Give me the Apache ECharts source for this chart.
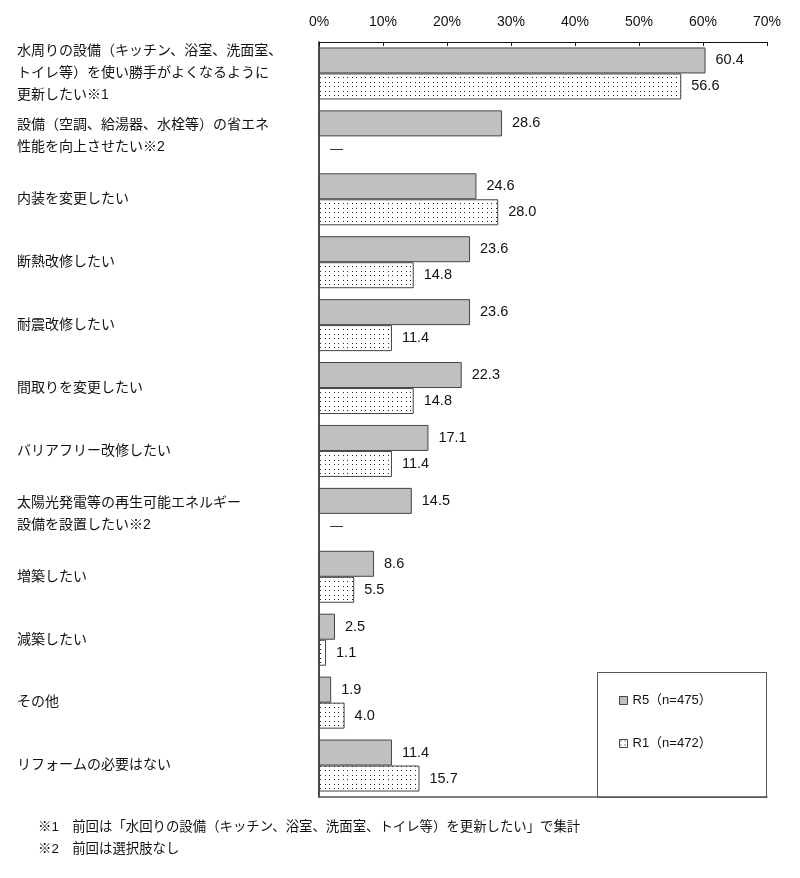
<!DOCTYPE html>
<html><head><meta charset="utf-8">
<script src="https://cdn.jsdelivr.net/npm/echarts@6/dist/echarts.min.js"></script>
<style>html,body{margin:0;padding:0;background:#fff}#c{width:800px;height:878px}</style>
</head><body><div id="c"></div>
<script>
const categories = [
  '水周りの設備（キッチン、浴室、洗面室、\nトイレ等）を使い勝手がよくなるように\n更新したい※1',
  '設備（空調、給湯器、水栓等）の省エネ\n性能を向上させたい※2',
  '内装を変更したい',
  '断熱改修したい',
  '耐震改修したい',
  '間取りを変更したい',
  'バリアフリー改修したい',
  '太陽光発電等の再生可能エネルギー\n設備を設置したい※2',
  '増築したい',
  '減築したい',
  'その他',
  'リフォームの必要はない'
];
const r5Values = [60.4, 28.6, 24.6, 23.6, 23.6, 22.3, 17.1, 14.5, 8.6, 2.5, 1.9, 11.4];
const r1Values = [56.6, null, 28.0, 14.8, 11.4, 14.8, 11.4, null, 5.5, 1.1, 4.0, 15.7];
const seriesNames = ['R5（n=475）', 'R1（n=472）'];
const footnotes = [
  '※1　前回は「水回りの設備（キッチン、浴室、洗面室、トイレ等）を更新したい」で集計',
  '※2　前回は選択肢なし'
];

const FONT = "'Liberation Sans','Noto Sans CJK JP',sans-serif";

// dotted pattern
const pc = document.createElement('canvas');
pc.width = 9; pc.height = 9;
const px = pc.getContext('2d');
px.fillStyle = '#fff'; px.fillRect(0,0,9,9);
px.fillStyle = '#222';
px.fillRect(1,1,1,1); px.fillRect(5,1,1,1); px.fillRect(1,5,1,1); px.fillRect(5,5,1,1);

const chart = echarts.init(document.getElementById('c'), null, {renderer:'canvas'});

const labelCommon = {
  show: true, position: 'right', distance: 10,
  fontFamily: FONT, fontSize: 14.5, color: '#111',
  formatter: p => p.value == null ? '' : Number(p.value).toFixed(1)
};

const r1Data = r1Values.map(v => v == null
  ? {value: 0, itemStyle: {color: 'rgba(0,0,0,0)', borderWidth: 0},
     label: {formatter: '—', distance: 11, fontSize: 13}}
  : v);

chart.setOption({
  animation: false,
  grid: {left: 319, right: 33, top: 42, bottom: 81},
  xAxis: [{
    type: 'value', position: 'top', min: 0, max: 70, interval: 10,
    axisLine: {show: true, lineStyle: {color: '#111', width: 1}},
    axisTick: {show: true, inside: true, length: 4, lineStyle: {color: '#111'}},
    splitLine: {show: false},
    axisLabel: {formatter: '{value}%', fontFamily: FONT, fontSize: 14, color: '#111', margin: 13}
  }, {
    type: 'value', position: 'bottom', min: 0, max: 70, interval: 10,
    axisLine: {show: true, lineStyle: {color: '#555', width: 1.5}},
    axisTick: {show: false}, axisLabel: {show: false}, splitLine: {show: false}
  }],
  yAxis: {
    type: 'category', inverse: true, data: categories,
    axisLine: {show: true, lineStyle: {color: '#111', width: 1.5}},
    axisTick: {show: false},
    axisLabel: {
      align: 'left', margin: 302, fontFamily: FONT, fontSize: 14,
      color: '#111', lineHeight: 22, interval: 0
    }
  },
  legend: {
    orient: 'vertical', left: 614, top: 689, itemWidth: 8, itemHeight: 8,
    itemGap: 30, data: seriesNames, icon: 'rect',
    textStyle: {fontFamily: FONT, fontSize: 13, color: '#111'},
    itemStyle: {borderColor: '#444', borderWidth: 1}
  },
  graphic: [
    {type: 'rect', left: 597, top: 672, shape: {width: 169, height: 125},
     style: {fill: 'rgba(0,0,0,0)', stroke: '#555', lineWidth: 1}, z: -1},
    {type: 'text', left: 38, top: 821,
     style: {text: footnotes[0], font: "13.4px 'Liberation Sans','Noto Sans CJK JP'", fill: '#111'}},
    {type: 'text', left: 38, top: 843,
     style: {text: footnotes[1], font: "13.4px 'Liberation Sans','Noto Sans CJK JP'", fill: '#111'}}
  ],
  series: [{
    name: seriesNames[0], type: 'bar', data: r5Values,
    barWidth: 26, barGap: '0%',
    itemStyle: {color: '#c0c0c0', borderColor: '#444', borderWidth: 1},
    label: labelCommon
  }, {
    name: seriesNames[1], type: 'bar', data: r1Data,
    barWidth: 26, barGap: '0%',
    itemStyle: {color: {image: pc, repeat: 'repeat'}, borderColor: '#444', borderWidth: 1},
    label: labelCommon
  }]
});
</script></body></html>
